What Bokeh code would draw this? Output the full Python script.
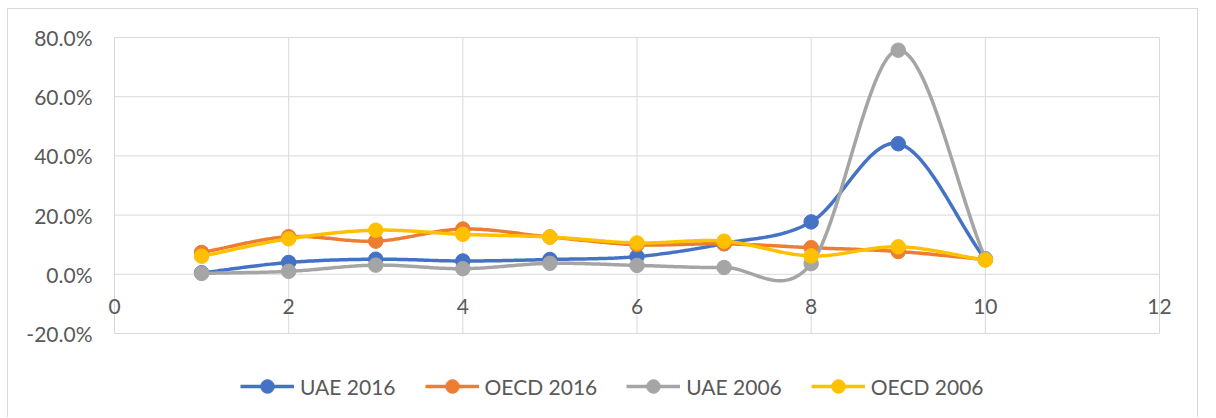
import numpy as np
from bokeh.plotting import figure
from bokeh.models import Range1d, FixedTicker, PrintfTickFormatter, Legend, LegendItem
from bokeh.embed import file_html
from bokeh.resources import INLINE

# ---- data (in percent) ----
x_values = [1, 2, 3, 4, 5, 6, 7, 8, 9, 10]
uae_2016 = [0.5, 4.0, 5.1, 4.5, 5.0, 6.0, 10.4, 17.7, 44.1, 5.0]
oecd_2016 = [7.4, 12.7, 11.2, 15.3, 12.6, 10.0, 10.3, 9.0, 7.7, 5.0]
uae_2006 = [0.3, 1.0, 3.1, 1.9, 3.7, 3.0, 2.3, 3.6, 75.7, 5.3]
oecd_2006 = [6.1, 12.0, 14.9, 13.5, 12.6, 10.6, 11.2, 6.2, 9.3, 4.8]
series_names = ["UAE 2016", "OECD 2016", "UAE 2006", "OECD 2006"]
series_values = [uae_2016, oecd_2016, uae_2006, oecd_2006]
colors = ["#4472C4", "#ED7D31", "#A5A5A5", "#FFC000"]
x_ticks = [0, 2, 4, 6, 8, 10, 12]
y_ticks = [-20, 0, 20, 40, 60, 80]

FONT = "Lato"
FONT_SIZE = "21px"
TEXT_COLOR = "#595959"
GRID_COLOR = "#d9d9d9"

# ---- layout (pixels) ----
W, H = 1191, 409                 # inner figure size (plus 1px css border)
FRAME_L, FRAME_R = 106, 1151     # where x=0 and x=12 fall
FRAME_T, FRAME_B = 28, 324       # where y=80 and y=-20 fall


def smooth(xs, ys, n=40):
    """Excel-like smoothed line: cubic Bezier with Catmull-Rom tangents."""
    xs = np.asarray(xs, float)
    ys = np.asarray(ys, float)
    m = len(xs)

    def tan(a, i):
        if i == 0:
            return a[1] - a[0]
        if i == m - 1:
            return a[-1] - a[-2]
        return (a[i + 1] - a[i - 1]) / 2.0

    t = np.linspace(0, 1, n)
    px, py = [], []
    for i in range(m - 1):
        for a, out in ((xs, px), (ys, py)):
            p0, p3 = a[i], a[i + 1]
            p1 = p0 + tan(a, i) / 3.0
            p2 = p3 - tan(a, i + 1) / 3.0
            seg = (1 - t) ** 3 * p0 + 3 * (1 - t) ** 2 * t * p1 + 3 * (1 - t) * t ** 2 * p2 + t ** 3 * p3
            out.extend(seg if i == 0 else seg[1:])
    return px, py


x_lo, x_hi = min(x_ticks), max(x_ticks)
y_lo, y_hi = min(y_ticks), max(y_ticks)
sx_unit = (FRAME_R - FRAME_L) / (x_hi - x_lo)
sy_unit = (FRAME_B - FRAME_T) / (y_hi - y_lo)
x_range = Range1d(x_lo - FRAME_L / sx_unit, x_hi + (W - FRAME_R) / sx_unit)
y_range = Range1d(y_lo - (H - FRAME_B) / sy_unit, y_hi + FRAME_T / sy_unit)

p = figure(width=W, height=H, x_range=x_range, y_range=y_range,
           output_backend="svg", toolbar_location=None,
           min_border=0, min_border_left=0, min_border_right=0,
           min_border_top=0, min_border_bottom=0)
p.outline_line_color = None
p.background_fill_color = "white"
p.border_fill_color = "white"
p.styles = {"margin-left": "7px", "margin-top": "8px",
            "border-left": "1px solid #d9d9d9",
            "border-top": "1px solid #d9d9d9",
            "border-right": "1px solid #d9d9d9"}
p.grid.visible = False

# gridlines drawn from the tick arrays
p.segment(x0=x_ticks, y0=[y_lo] * len(x_ticks), x1=x_ticks, y1=[y_hi] * len(x_ticks),
          line_color=GRID_COLOR, line_width=1)
p.segment(x0=[x_lo] * len(y_ticks), y0=y_ticks, x1=[x_hi] * len(y_ticks), y1=y_ticks,
          line_color=GRID_COLOR, line_width=1)

# axes placed inside the frame
xa = p.xaxis[0]
xa.ticker = FixedTicker(ticks=x_ticks)
xa.fixed_location = 0
xa.axis_line_color = None
xa.major_tick_line_color = None
xa.minor_tick_line_color = None
xa.major_tick_in = 0
xa.major_tick_out = 0
xa.major_label_standoff = 25
xa.major_label_text_font = FONT
xa.major_label_text_font_size = FONT_SIZE
xa.major_label_text_color = TEXT_COLOR

ya = p.yaxis[0]
ya.ticker = FixedTicker(ticks=y_ticks)
ya.formatter = PrintfTickFormatter(format="%.1f%%")
ya.fixed_location = 0
ya.axis_line_color = None
ya.major_tick_line_color = None
ya.minor_tick_line_color = None
ya.major_tick_in = 0
ya.major_tick_out = 0
ya.major_label_standoff = 22
ya.major_label_text_font = FONT
ya.major_label_text_font_size = FONT_SIZE
ya.major_label_text_color = TEXT_COLOR

items = []
for name, vals, col in zip(series_names, series_values, colors):
    sx, sy = smooth(x_values, vals)
    lr = p.line(sx, sy, line_color=col, line_width=3.5)
    sr = p.scatter(x_values, vals, marker="circle", size=14.5,
                   fill_color=col, line_color=col)
    items.append(LegendItem(label=name, renderers=[lr, sr]))

legend = Legend(items=items, orientation="horizontal", location=(232, 15),
                label_text_font=FONT, label_text_font_size=FONT_SIZE,
                label_text_color=TEXT_COLOR,
                glyph_width=54, glyph_height=34, label_standoff=6, spacing=29,
                border_line_color=None, background_fill_alpha=0,
                padding=0, margin=0)
p.add_layout(legend, "center")

open("out.html", "w").write(file_html(p, INLINE))
